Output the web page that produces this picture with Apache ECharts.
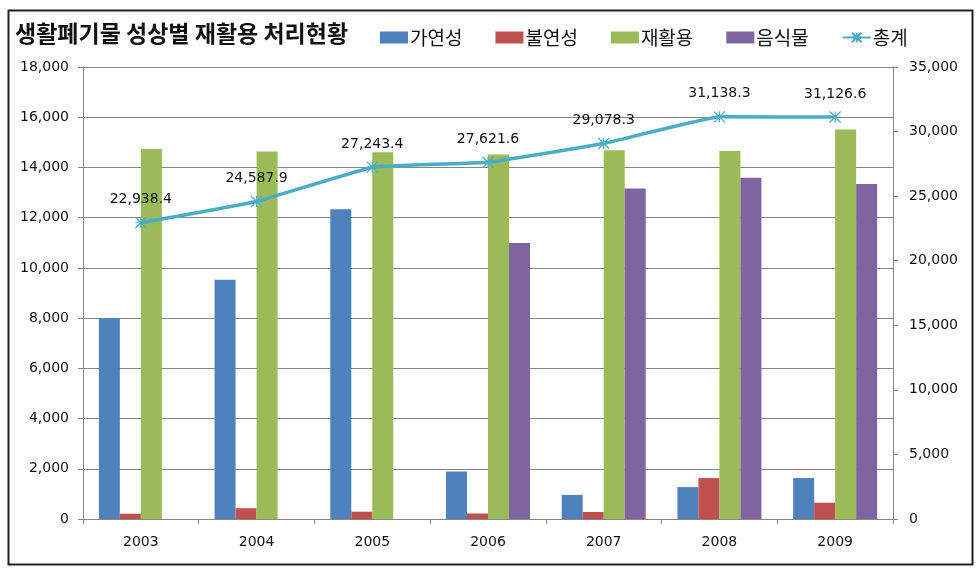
<!DOCTYPE html>
<html>
<head>
<meta charset="utf-8">
<script src="https://cdn.jsdelivr.net/npm/echarts@6/dist/echarts.min.js"></script>
<style>
html,body{margin:0;padding:0;background:#fff;}
#c{width:977px;height:573px;}
</style>
</head>
<body>
<div id="c"></div>
<script>
const categories = ['2003','2004','2005','2006','2007','2008','2009'];
const combustible = [8000, 9530, 12340, 1890, 960, 1270, 1630];
const nonCombustible = [210, 430, 290, 220, 280, 1630, 650];
const recyclable = [14730, 14630, 14610, 14520, 14680, 14650, 15510];
const foodWaste = [null, null, null, 10990, 13160, 13590, 13340];
const total = [22938.4, 24587.9, 27243.4, 27621.6, 29078.3, 31138.3, 31126.6];
const seriesNames = ['가연성','불연성','재활용','음식물','총계'];
const titleText = '생활폐기물 성상별 재활용 처리현황';

const numFont = 'DejaVu Sans';
const krFont = '"Noto Sans CJK KR", "Noto Sans", sans-serif';
const axisGray = '#868686';

const chart = echarts.init(document.getElementById('c'), null, {renderer:'canvas'});
const fmt = v => Number(v).toLocaleString('en-US');
const barCommon = { type:'bar', barWidth:21, barGap:'0%', yAxisIndex:0 };
const starPath = 'path://M0,0L10,10M10,0L0,10M5,0L5,10M0,5L10,5';

chart.setOption({
  backgroundColor:'#fff',
  animation:false,
  graphic:[{
    type:'rect', left:6, top:8, shape:{width:964, height:554},
    style:{fill:'none', stroke:'#222', lineWidth:2}, silent:true, z:-1
  }],
  title:{
    text:titleText, left:10, top:17,
    textStyle:{fontFamily:krFont, fontSize:23, fontWeight:'bold', color:'#111'}
  },
  legend:{
    left:375, top:23, itemWidth:28, itemHeight:12, itemGap:33,
    textStyle:{fontFamily:krFont, fontSize:19, color:'#111', padding:[0,0,0,-3]},
    data:[
      {name:seriesNames[0], icon:'rect'},
      {name:seriesNames[1], icon:'rect'},
      {name:seriesNames[2], icon:'rect'},
      {name:seriesNames[3], icon:'rect'},
      {name:seriesNames[4]}
    ]
  },
  grid:{left:83, right:84, top:67, bottom:54, containLabel:false},
  xAxis:{
    type:'category', data:categories, boundaryGap:true,
    axisLine:{lineStyle:{color:axisGray}},
    axisTick:{show:true, length:5, lineStyle:{color:axisGray}},
    axisLabel:{fontFamily:numFont, fontSize:14, color:'#111', margin:16}
  },
  yAxis:[{
    type:'value', min:0, max:18000, interval:2000, position:'left',
    axisLine:{show:true, lineStyle:{color:axisGray}},
    axisTick:{show:true, length:5, lineStyle:{color:axisGray}},
    splitLine:{show:true, lineStyle:{color:axisGray, width:1}},
    axisLabel:{fontFamily:numFont, fontSize:14, color:'#111', margin:14, formatter:fmt}
  },{
    type:'value', min:0, max:35000, interval:5000, position:'right',
    axisLine:{show:true, lineStyle:{color:axisGray}},
    axisTick:{show:true, length:5, lineStyle:{color:axisGray}},
    splitLine:{show:false},
    axisLabel:{fontFamily:numFont, fontSize:14, color:'#111', margin:16, formatter:fmt}
  }],
  series:[
    Object.assign({name:seriesNames[0], data:combustible, itemStyle:{color:'#4F81BD'}}, barCommon),
    Object.assign({name:seriesNames[1], data:nonCombustible, itemStyle:{color:'#C0504D'}}, barCommon),
    Object.assign({name:seriesNames[2], data:recyclable, itemStyle:{color:'#9BBB59'}}, barCommon),
    Object.assign({name:seriesNames[3], data:foodWaste, itemStyle:{color:'#8064A2'}}, barCommon),
    {
      name:seriesNames[4], type:'line', yAxisIndex:1, data:total, smooth:0.07, z:5,
      symbol:starPath, symbolSize:11, showSymbol:true,
      lineStyle:{color:'#4BACC6', width:3.5},
      itemStyle:{color:'rgba(0,0,0,0)', borderColor:'#4BACC6', borderWidth:1.2},
      label:{show:true, position:'top', distance:10, fontFamily:numFont, fontSize:14, color:'#111',
        formatter:p => Number(p.value).toLocaleString('en-US',{minimumFractionDigits:1, maximumFractionDigits:1})}
    }
  ]
});
</script>
</body>
</html>
